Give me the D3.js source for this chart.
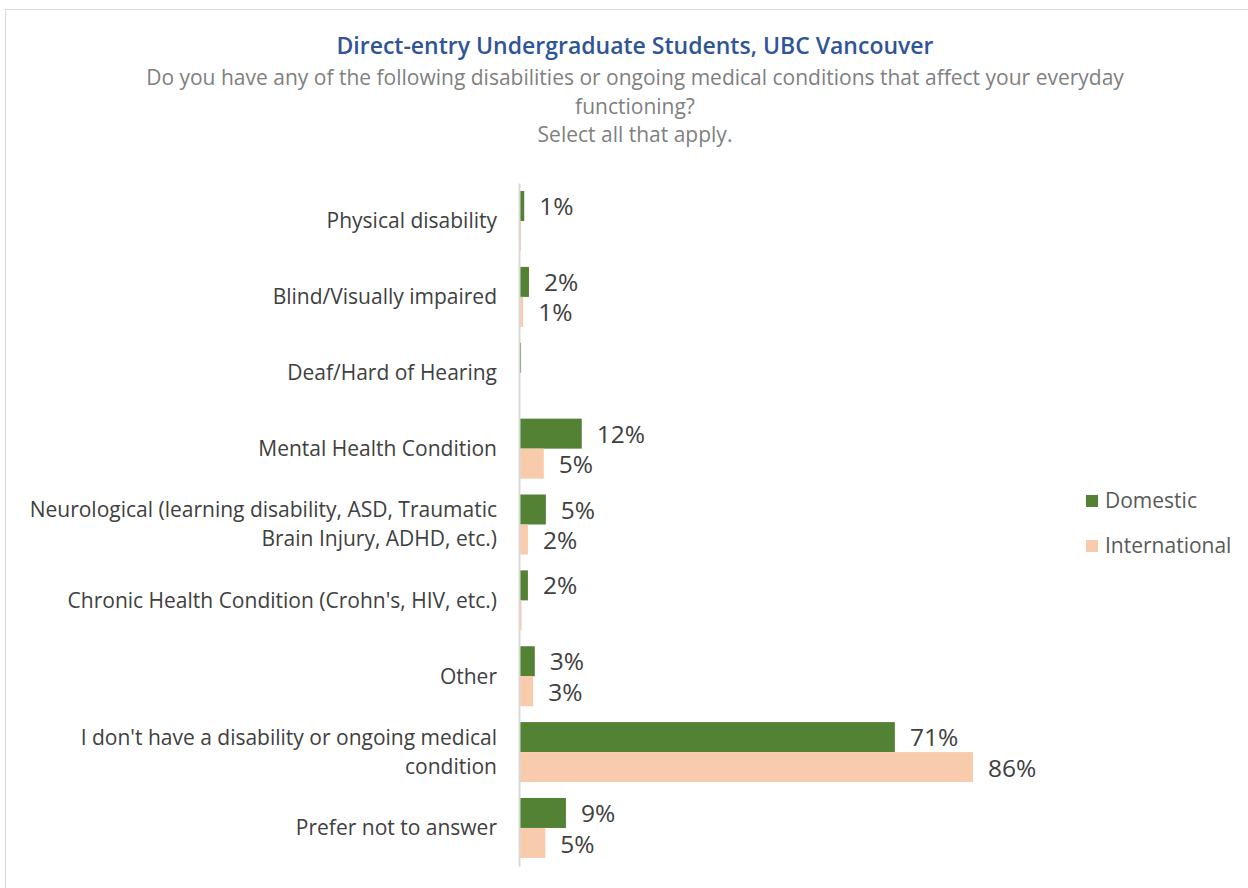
<!DOCTYPE html>
<html><head><meta charset="utf-8">
<script src="https://cdn.jsdelivr.net/npm/d3@7"></script>
<style>body{margin:0;background:#fff}svg{display:block}</style>
</head><body>
<script>
const categories = [
  ["Physical disability"],
  ["Blind/Visually impaired"],
  ["Deaf/Hard of Hearing"],
  ["Mental Health Condition"],
  ["Neurological (learning disability, ASD, Traumatic", "Brain Injury, ADHD, etc.)"],
  ["Chronic Health Condition (Crohn's, HIV, etc.)"],
  ["Other"],
  ["I don't have a disability or ongoing medical", "condition"],
  ["Prefer not to answer"]
];
const seriesNames = ["Domestic", "International"];
const domestic = [0.8, 1.7, 0.2, 11.7, 4.9, 1.5, 2.8, 71.0, 8.7];
const international = [0.2, 0.6, 0, 4.5, 1.5, 0.3, 2.5, 85.8, 4.8];
const domesticLabels = ["1%", "2%", "", "12%", "5%", "2%", "3%", "71%", "9%"];
const internationalLabels = ["", "1%", "", "5%", "2%", "", "3%", "86%", "5%"];
const colors = ["#548235", "#f8cbad"];

const W = 1248, H = 888;
const svg = d3.select("body").append("svg").attr("width", W).attr("height", H);
const FONT = "'Open Sans', 'Noto Sans', sans-serif";

svg.append("rect").attr("x", 5.5).attr("y", 9.5).attr("width", W + 10).attr("height", H + 10)
  .attr("fill", "#fff").attr("stroke", "#d9d9d9").attr("stroke-width", 1);

svg.append("text").attr("x", 635).attr("y", 46).attr("dy", "0.35em").attr("text-anchor", "middle")
  .attr("font-family", FONT).attr("font-weight", 600).attr("font-size", 23)
  .attr("fill", "#2f5597").text("Direct-entry Undergraduate Students, UBC Vancouver");
const sub = ["Do you have any of the following disabilities or ongoing medical conditions that affect your everyday",
  "functioning?", "Select all that apply."];
sub.forEach((s, i) => svg.append("text").attr("x", 635).attr("y", 78 + i * 28.5).attr("dy", "0.35em")
  .attr("text-anchor", "middle").attr("font-family", FONT).attr("font-size", 21)
  .attr("fill", "#7f7f7f").text(s));

const x = d3.scaleLinear().domain([0, 100]).range([520, 520 + 528]);
const y = d3.scaleBand().domain(d3.range(categories.length)).range([183.1, 865.9]).paddingInner(0).paddingOuter(0);
const ys = d3.scaleBand().domain([0, 1]).range([0, y.bandwidth()]).paddingInner(0).paddingOuter((y.bandwidth() - 60) / 2 / 30);

const data = [domestic, international];
const labels = [domesticLabels, internationalLabels];
data.forEach((vals, s) => {
  const g = svg.append("g");
  g.selectAll("rect").data(vals).join("rect")
    .attr("x", x(0)).attr("y", (d, i) => y(i) + ys(s))
    .attr("width", d => x(d) - x(0)).attr("height", ys.bandwidth())
    .attr("fill", colors[s]);
  g.selectAll("text").data(vals).join("text")
    .attr("x", d => x(d) + 15).attr("y", (d, i) => y(i) + ys(s) + ys.bandwidth() / 2 + (s === 0 ? 0.5 : 1))
    .attr("dy", "0.35em").attr("font-family", FONT).attr("font-size", 24.5)
    .attr("fill", "#404040").text((d, i) => labels[s][i]);
});

// axis
const axis = svg.append("g").attr("transform", `translate(${x(0) - 1},0)`)
  .call(d3.axisLeft(y).tickSize(0).tickFormat(""));
axis.select(".domain").attr("stroke", "#d9d9d9").attr("stroke-width", 2);

// category labels
const cl = svg.append("g");
categories.forEach((lines, i) => {
  const cy = y(i) + y.bandwidth() / 2;
  const lh = 29;
  lines.forEach((t, j) => {
    cl.append("text").attr("x", 497).attr("y", cy + (j - (lines.length - 1) / 2) * lh)
      .attr("dy", "0.35em").attr("text-anchor", "end").attr("font-family", FONT)
      .attr("font-size", 21).attr("fill", "#404040").text(t);
  });
});

// legend
seriesNames.forEach((n, i) => {
  const ly = 501 + i * 45;
  svg.append("rect").attr("x", 1086).attr("y", ly - 6).attr("width", 12).attr("height", 12).attr("fill", colors[i]);
  svg.append("text").attr("x", 1105).attr("y", ly).attr("dy", "0.35em").attr("font-family", FONT)
    .attr("font-size", 21).attr("fill", "#595959").text(n);
});
</script>
</body></html>
